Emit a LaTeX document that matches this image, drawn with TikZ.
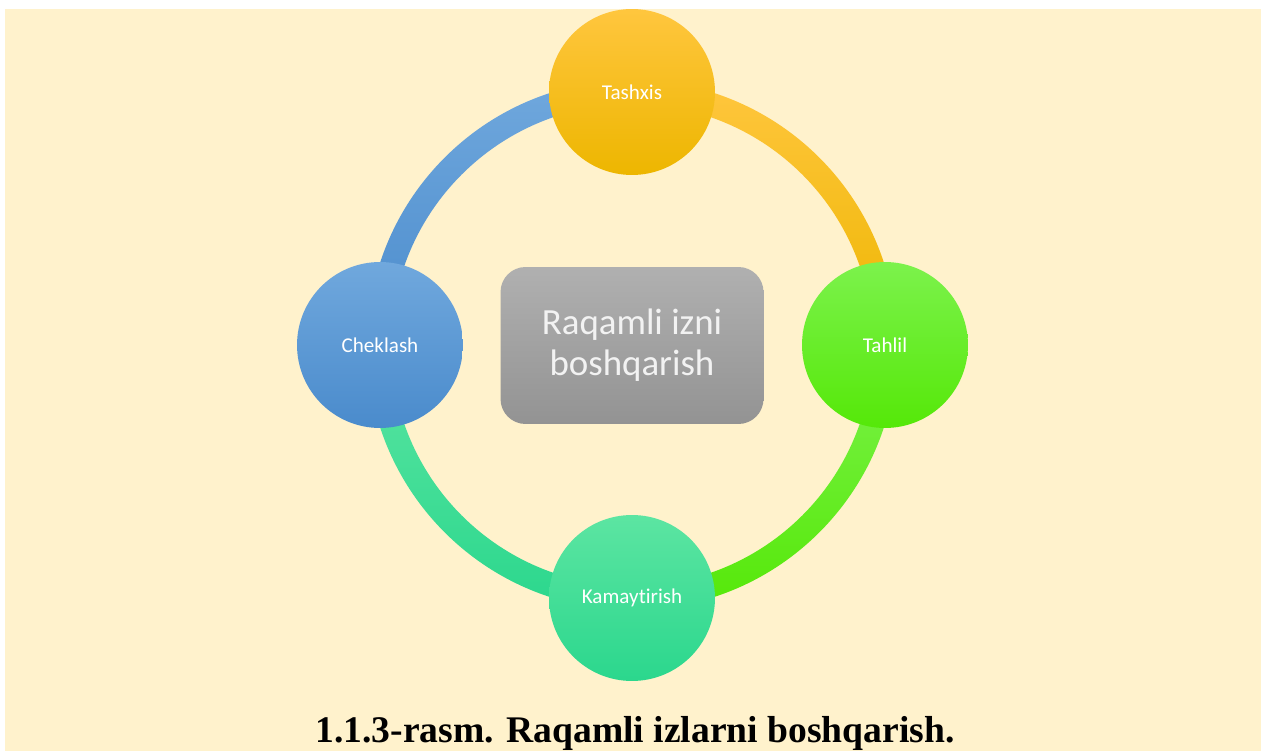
\documentclass[tikz,border=0pt]{standalone}
\usepackage{fontspec}
\setmainfont[Ligatures=NoCommon]{Carlito}
\newfontfamily\captionfont{Liberation Serif}
\usepackage{tikz}
\usetikzlibrary{calc}

\definecolor{cream}{HTML}{FFF2CC}
\definecolor{blueTop}{HTML}{70A8DD}
\definecolor{blueBot}{HTML}{4A8BCC}
\definecolor{orangeTop}{HTML}{FFC63E}
\definecolor{orangeBot}{HTML}{EDB600}
\definecolor{greenTop}{HTML}{7CF24C}
\definecolor{greenBot}{HTML}{55E808}
\definecolor{tealTop}{HTML}{5CE5A2}
\definecolor{tealBot}{HTML}{2BD78D}
\definecolor{grayTop}{HTML}{B0B0B0}
\definecolor{grayBot}{HTML}{939393}

\tikzset{
  stage/.style = {circle, minimum size = 3.32cm, inner sep = 0pt,
                  text = white, font = \fontsize{12}{14}\selectfont},
  hub/.style   = {rectangle, rounded corners = 0.5cm, minimum width = 5.26cm,
                  minimum height = 3.14cm, align = center, text = white!95!black,
                  font = \fontsize{21}{23.5}\selectfont,
                  top color = grayTop, bottom color = grayBot}
}

\begin{document}
\begin{tikzpicture}[x = 0.02cm, y = 0.02cm]

%% Page and background

\useasboundingbox (0,0) rectangle (1265,751);
\fill [cream] (5,0) rectangle (1261,742);

\coordinate (ring) at (632,406);

%% Draw Ring

\shade [top color = blueTop,   bottom color = blueBot]
  ($(ring)+(90:5.30cm)$) arc (90:180:5.30cm) -- ($(ring)+(180:4.82cm)$) arc (180:90:4.82cm) -- cycle;
\shade [top color = orangeTop, bottom color = orangeBot]
  ($(ring)+(0:5.30cm)$) arc (0:90:5.30cm) -- ($(ring)+(90:4.82cm)$) arc (90:0:4.82cm) -- cycle;
\shade [top color = greenTop,  bottom color = greenBot]
  ($(ring)+(-90:5.30cm)$) arc (-90:0:5.30cm) -- ($(ring)+(0:4.82cm)$) arc (0:-90:4.82cm) -- cycle;
\shade [top color = tealTop,   bottom color = tealBot]
  ($(ring)+(180:5.30cm)$) arc (180:270:5.30cm) -- ($(ring)+(270:4.82cm)$) arc (270:180:4.82cm) -- cycle;

%% Draw Stages

\node [stage, top color = orangeTop, bottom color = orangeBot] (tashxis)     at (632,659) {Tashxis};
\node [stage, top color = greenTop,  bottom color = greenBot]  (tahlil)      at (885,406) {Tahlil};
\node [stage, top color = tealTop,   bottom color = tealBot]   (kamaytirish) at (632,153) {Kamaytirish};
\node [stage, top color = blueTop,   bottom color = blueBot]   (cheklash)    at (380,406) {Cheklash};

%% Draw Centre

\node [hub] (izlar) at (632,405.5) {Raqamli izni\\boshqarish};

%% Caption

\node [anchor = base, inner sep = 0pt, font = \captionfont\bfseries\fontsize{21.4}{24}\selectfont]
  (caption) at (635,9) {1.1.3-rasm. Raqamli izlarni boshqarish.};

\end{tikzpicture}
\end{document}
